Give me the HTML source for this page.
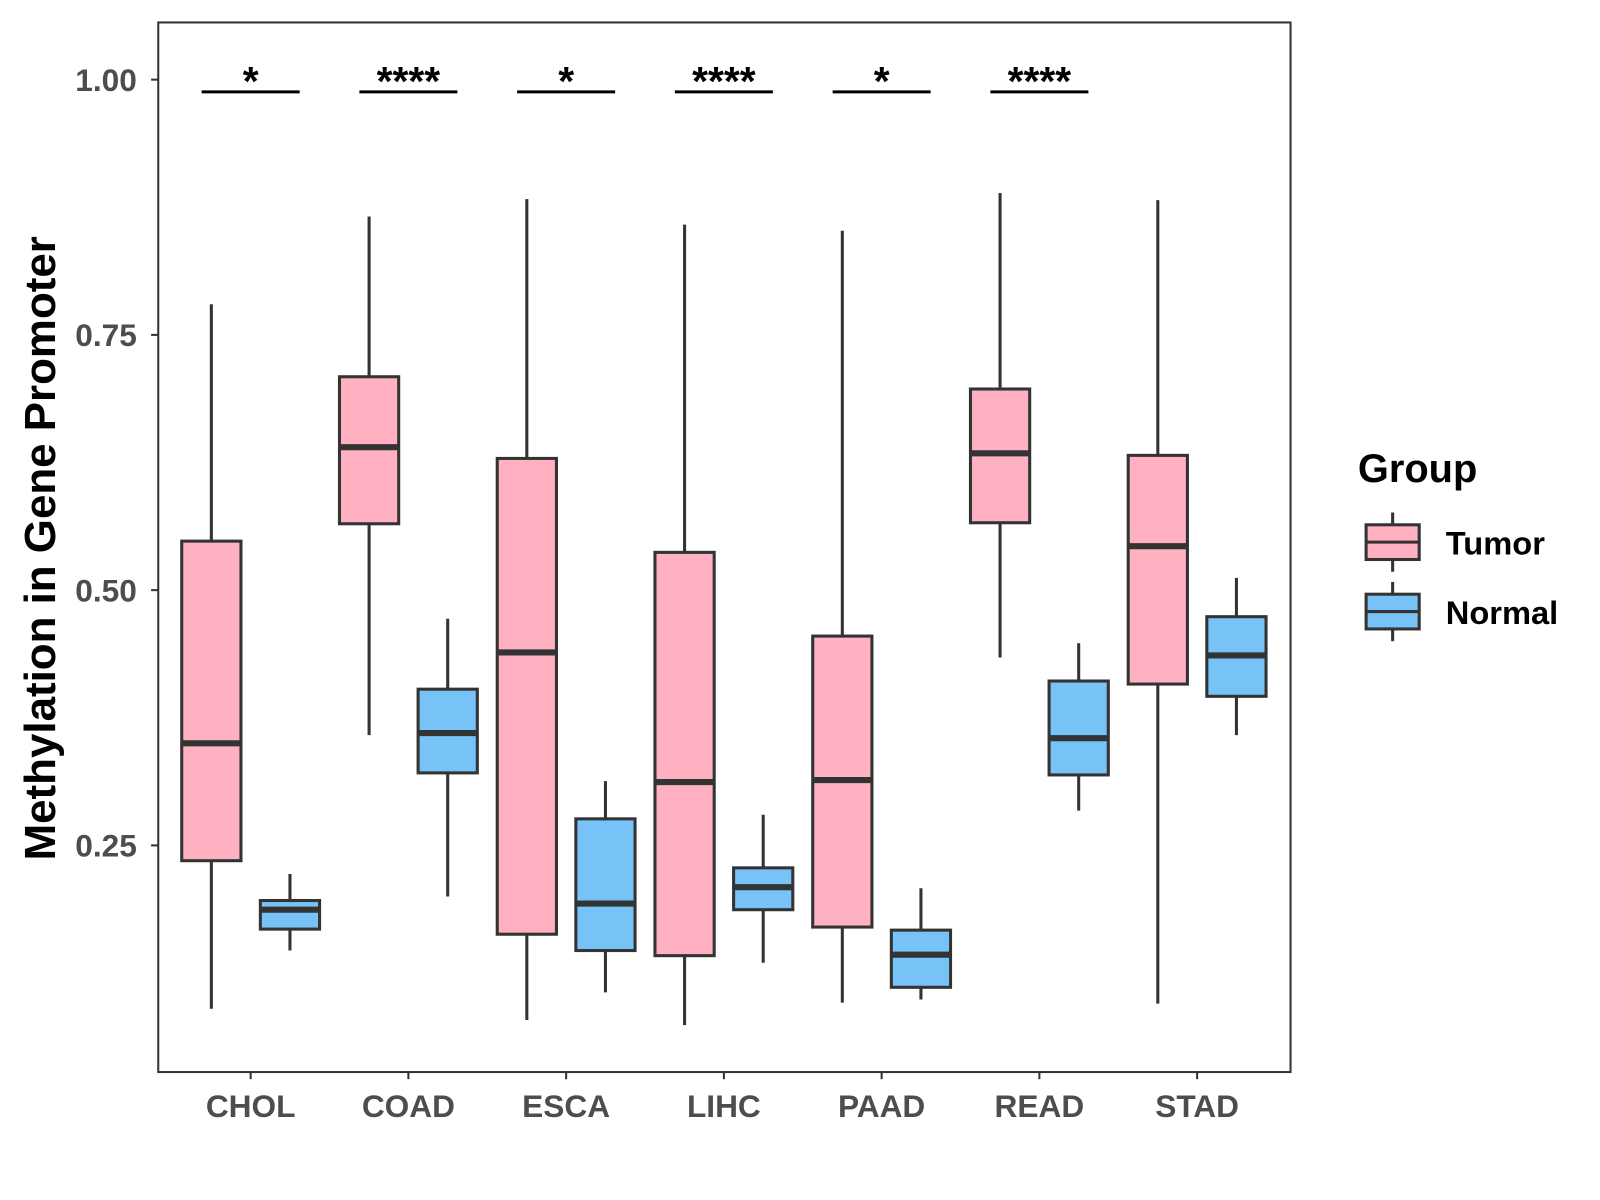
<!DOCTYPE html>
<html><head><meta charset="utf-8"><style>
html,body{margin:0;padding:0;background:#fff;}
svg{display:block;font-family:"Liberation Sans",Arial,sans-serif;}
</style></head><body>
<svg id="chart" width="1600" height="1200" viewBox="0 0 1600 1200">
<g transform="scale(1.021)">
<rect x="155" y="22" width="1109" height="1028" fill="#fff" stroke="#333" stroke-width="2"/>
<g id="marks"></g>
<text x="54" y="537" transform="rotate(-90 54 537)" text-anchor="middle" font-size="43" font-weight="bold" fill="#000">Methylation in Gene Promoter</text>
<g>
<text x="1330" y="472" font-size="39" font-weight="bold">Group</text>
<g>
<line x1="1364" y1="502" x2="1364" y2="560" stroke="#333" stroke-width="3"/>
<rect x="1338" y="514" width="52" height="34" fill="#FFB0C1" stroke="#333" stroke-width="3"/>
<line x1="1338" y1="531" x2="1390" y2="531" stroke="#333" stroke-width="3"/>
<text x="1416" y="543" font-size="32" font-weight="bold">Tumor</text></g>
<g>
<line x1="1364" y1="570" x2="1364" y2="628" stroke="#333" stroke-width="3"/>
<rect x="1338" y="582" width="52" height="34" fill="#77C2F7" stroke="#333" stroke-width="3"/>
<line x1="1338" y1="599" x2="1390" y2="599" stroke="#333" stroke-width="3"/>
<text x="1416" y="611" font-size="32" font-weight="bold">Normal</text></g>
</g>
</g>
</svg>
<script>
const categories=["CHOL","COAD","ESCA","LIHC","PAAD","READ","STAD"];
const tumorStats=[[0.09,0.235,0.35,0.548,0.78],[0.358,0.565,0.64,0.709,0.866],[0.079,0.163,0.439,0.629,0.883],[0.074,0.142,0.312,0.537,0.858],[0.096,0.17,0.314,0.455,0.852],[0.434,0.566,0.634,0.697,0.889],[0.095,0.408,0.543,0.632,0.882]];
const normalStats=[[0.147,0.168,0.187,0.196,0.222],[0.2,0.321,0.36,0.403,0.472],[0.106,0.147,0.193,0.276,0.313],[0.135,0.187,0.209,0.228,0.28],[0.099,0.111,0.143,0.167,0.208],[0.284,0.319,0.355,0.411,0.448],[0.358,0.396,0.436,0.474,0.512]];
const significance=["*","****","*","****","*","****",""];
const yTicks=[0.25,0.5,0.75,1.0];
const yTickLabels=["0.25","0.50","0.75","1.00"];
const NS="http://www.w3.org/2000/svg";
const g=document.getElementById("marks");
function y(v){return 1078-1000*v;}
function x(i){return 245.5+i*154.5;}
function el(tag,attrs){const e=document.createElementNS(NS,tag);for(const k in attrs)e.setAttribute(k,attrs[k]);g.appendChild(e);return e;}
yTicks.forEach((t,i)=>{
  const l=el("line",{x1:148,x2:155,y1:y(t),y2:y(t),stroke:"#333","stroke-width":2});
  
  
  const tx=el("text",{x:134,y:y(t)+11,"text-anchor":"end","font-size":31,"font-weight":"bold",fill:"#4d4d4d"});
  tx.textContent=yTickLabels[i];
  
  
});
function box(cx,s,fill,name){
  const w=el("line",{x1:cx,x2:cx,y1:y(s[0]),y2:y(s[4]),stroke:"#333","stroke-width":3});
  
  
  const r=el("rect",{x:cx-29,y:y(s[3]),width:58,height:y(s[1])-y(s[3]),fill:fill,stroke:"#333","stroke-width":3});
  
  
  const m=el("line",{x1:cx-29,x2:cx+29,y1:y(s[2]),y2:y(s[2]),stroke:"#333","stroke-width":6});
  
  
}
categories.forEach((c,i)=>{
  const cx=x(i);
  box(cx-38.5,tumorStats[i],"#FFB0C1","tumor-"+c.toLowerCase());
  box(cx+38.5,normalStats[i],"#77C2F7","normal-"+c.toLowerCase());
  const tk=el("line",{x1:cx,x2:cx,y1:1050,y2:1057,stroke:"#333","stroke-width":2});
  
  
  const lb=el("text",{x:cx,y:1094,"text-anchor":"middle","font-size":31,"font-weight":"bold",fill:"#4d4d4d"});
  lb.textContent=c;
  
  
  if(significance[i]){
    const sl=el("line",{x1:cx-48,x2:cx+48,y1:90,y2:90,stroke:"#000","stroke-width":3});
    
    
    const st=el("text",{x:cx,y:93,"text-anchor":"middle","font-size":40,"font-weight":"bold",fill:"#000"});
    st.textContent=significance[i];
    
    
  }
});
</script>
</body></html>
